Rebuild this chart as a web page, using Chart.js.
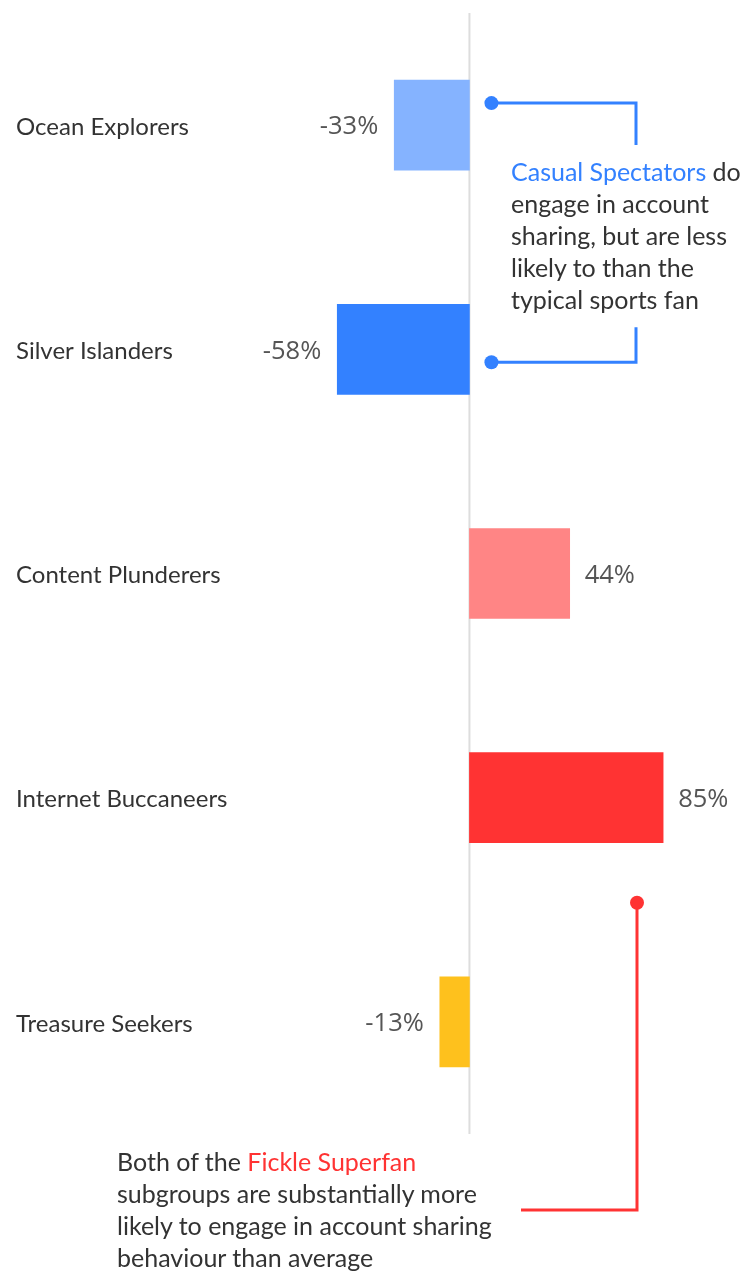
<!DOCTYPE html>
<html>
<head>
<meta charset="utf-8">
<script src="https://cdn.jsdelivr.net/npm/chart.js@4.4.1/dist/chart.umd.min.js"></script>
<style>
  html, body { margin: 0; padding: 0; background: #fff; }
  #wrap { position: relative; width: 752px; height: 1271px; overflow: hidden; }
  #c { position: absolute; left: 0; top: 0; }
  .note { position: absolute; font-family: "Source Sans Pro", Lato, "Noto Sans", sans-serif; font-size: 25px; line-height: 32px; color: #333; font-weight: 400; white-space: nowrap; }
  .blue { color: #3381ff; }
  .red { color: #ff3333; }
</style>
</head>
<body>
<div id="wrap">
  <canvas id="c" width="752" height="1271"></canvas>
  <div class="note" id="n1" style="left:511px; top:155px;"><span class="blue">Casual Spectators</span> do<br>engage in account<br>sharing, but are less<br>likely to than the<br>typical sports fan</div>
  <div class="note" id="n2" style="left:117px; top:1145px;">Both of the <span class="red">Fickle Superfan</span><br>subgroups are substantially more<br>likely to engage in account sharing<br>behaviour than average</div>
</div>
<script>
const categories = ["Ocean Explorers", "Silver Islanders", "Content Plunderers", "Internet Buccaneers", "Treasure Seekers"];
const values = [-33, -58, 44, 85, -13];
const valueLabels = ["-33%", "-58%", "44%", "85%", "-13%"];
const barColors = ["#85b3ff", "#3381ff", "#ff8585", "#ff3333", "#fec11d"];

const labelFont = '400 24px "Source Sans Pro", Lato, "Noto Sans", sans-serif';
const valueFont = '25.5px "Open Sans", "Noto Sans", sans-serif';

const overlay = {
  id: 'overlay',
  beforeDatasetsDraw(chart) {
    const ctx = chart.ctx, x = chart.scales.x, a = chart.chartArea;
    const x0 = x.getPixelForValue(0);
    ctx.save();
    ctx.strokeStyle = '#dddddd';
    ctx.lineWidth = 2;
    ctx.beginPath();
    ctx.moveTo(x0, a.top);
    ctx.lineTo(x0, a.bottom);
    ctx.stroke();
    ctx.restore();
  },
  afterDatasetsDraw(chart) {
    const ctx = chart.ctx, x = chart.scales.x, y = chart.scales.y;
    const x0 = x.getPixelForValue(0);
    ctx.save();
    ctx.textBaseline = 'middle';
    categories.forEach((c, i) => {
      const yc = y.getPixelForValue(i) + 2;
      ctx.font = labelFont;
      ctx.fillStyle = '#333333';
      ctx.textAlign = 'left';
      ctx.fillText(c, 16, yc);
      const xe = x.getPixelForValue(values[i]);
      ctx.font = valueFont;
      ctx.fillStyle = '#555555';
      if (values[i] < 0) {
        ctx.textAlign = 'right';
        ctx.fillText(valueLabels[i], xe - 16, yc);
      } else {
        ctx.textAlign = 'left';
        ctx.fillText(valueLabels[i], xe + 15, yc);
      }
    });
    // brackets
    const dot = (px, py, col) => { ctx.fillStyle = col; ctx.beginPath(); ctx.arc(px, py, 7, 0, Math.PI * 2); ctx.fill(); };
    const blue = '#3381ff', red = '#ff3333';
    const y1 = y.getPixelForValue(0) - 22;
    const y2 = y.getPixelForValue(1) + 13;
    const bx = x0 + 22, bxr = 636;
    ctx.lineWidth = 3;
    ctx.strokeStyle = blue;
    ctx.beginPath();
    ctx.moveTo(bx, y1); ctx.lineTo(bxr, y1); ctx.lineTo(bxr, y1 + 42);
    ctx.stroke();
    ctx.beginPath();
    ctx.moveTo(bxr, y2 - 35); ctx.lineTo(bxr, y2); ctx.lineTo(bx, y2);
    ctx.stroke();
    dot(bx, y1, blue); dot(bx, y2, blue);
    const ry = y.getPixelForValue(3) + 105;
    ctx.strokeStyle = red;
    ctx.beginPath();
    ctx.moveTo(637, ry); ctx.lineTo(637, 1210); ctx.lineTo(521, 1210);
    ctx.stroke();
    dot(637, ry, red);
    ctx.restore();
  }
};

new Chart(document.getElementById('c'), {
  type: 'bar',
  data: {
    labels: categories,
    datasets: [{ data: values, backgroundColor: barColors, borderWidth: 0, barThickness: 90 }]
  },
  options: {
    indexAxis: 'y',
    responsive: false,
    animation: false,
    layout: { padding: { top: 13, bottom: 137, left: 0, right: 0 } },
    plugins: { legend: { display: false }, tooltip: { enabled: false } },
    scales: {
      x: { min: -206, max: 124, display: false },
      y: { display: false }
    }
  },
  plugins: [overlay]
});
</script>
</body>
</html>
